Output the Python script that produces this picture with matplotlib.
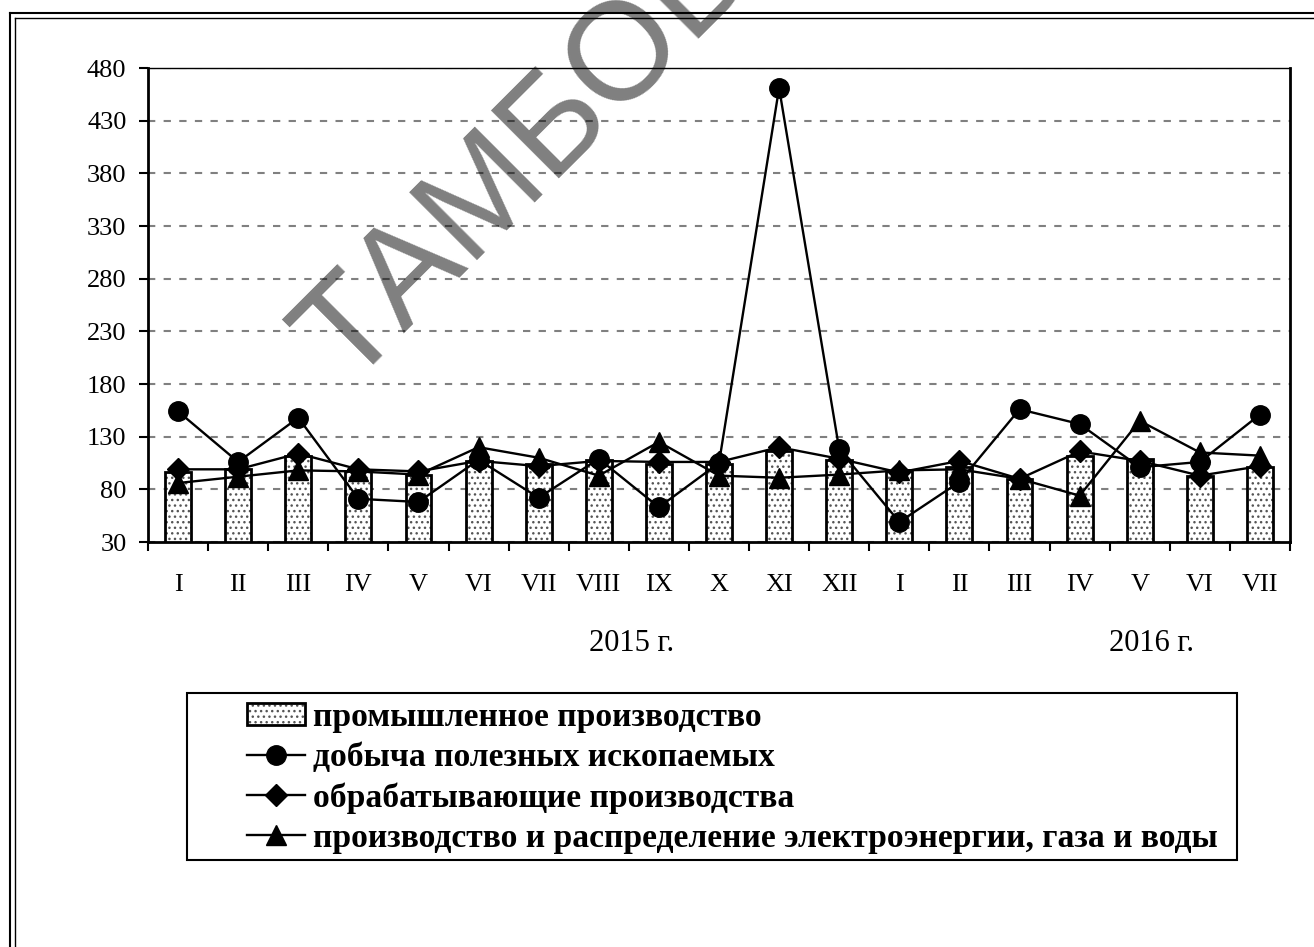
import numpy as np
import matplotlib
matplotlib.use("Agg")
import matplotlib.pyplot as plt
from matplotlib.lines import Line2D
from matplotlib.patches import Patch, Rectangle
from matplotlib.legend_handler import HandlerTuple

# months, Jan 2015 .. Jul 2016
months = ['I', 'II', 'III', 'IV', 'V', 'VI', 'VII', 'VIII', 'IX', 'X', 'XI', 'XII',
          'I', 'II', 'III', 'IV', 'V', 'VI', 'VII']

prom = [96, 99, 112, 97, 94, 107, 104, 108, 104, 104, 116, 108,
        97, 101, 90, 112, 109, 93, 101]
dobycha = [154, 106, 148, 71, 68, 108, 72, 109, 63, 105, 461, 118,
           49, 87, 156, 142, 101, 106, 151]
obrab = [99, 99, 114, 99, 97, 107, 102, 107, 106, 106, 120, 109,
         96, 107, 90, 116, 107, 93, 102]
energy = [86, 92, 98, 97, 94, 120, 110, 93, 125, 93, 91, 94,
          98, 99, 90, 74, 145, 115, 112]

labels = ['промышленное производство',
          'добыча полезных ископаемых',
          'обрабатывающие производства',
          'производство и распределение электроэнергии, газа и воды']
years = ['2015 г.', '2016 г.']

W, H = 1314, 947
serif = 'Liberation Serif'

fig = plt.figure(figsize=(W / 100, H / 100), dpi=100)
ax = fig.add_axes([148 / W, 1 - 542 / H, (1290 - 148) / W, (542 - 68) / H])

x = np.arange(len(months))

# bars: dotted fill + black outline
ax.bar(x, prom, width=0.43, color='white', edgecolor='#555555', hatch='...', linewidth=0, zorder=2)
ax.bar(x, prom, width=0.43, fill=False, edgecolor='black', linewidth=2, zorder=2.1)

ax.plot(x, dobycha, color='black', lw=1.7, marker='o', ms=14, zorder=3)
ax.plot(x, obrab, color='black', lw=1.7, marker='D', ms=11.5, zorder=4)
ax.plot(x, energy, color='black', lw=1.7, marker='^', ms=14, zorder=5)

ax.set_xlim(-0.5, len(months) - 0.5)
ax.set_ylim(30, 480)
ax.set_yticks(np.arange(30, 481, 50))
ax.set_xticks(x, months)
ax.set_xticks(np.arange(-0.5, len(months), 1), minor=True)

ax.tick_params(axis='x', which='major', length=0, pad=23, labelsize=19)
ax.tick_params(axis='x', which='minor', length=6.5, width=1.5, direction='out')
ax.tick_params(axis='y', length=6.5, width=1.5, direction='out', pad=9, labelsize=19)
for t in ax.get_xticklabels() + ax.get_yticklabels():
    t.set_fontfamily(serif)

ax.set_axisbelow(True)
ax.yaxis.grid(True, color='#808080', lw=1.5, linestyle=(0, (3.5, 4)))
for s in ['left', 'bottom', 'right']:
    ax.spines[s].set_linewidth(2)
ax.spines['top'].set_linewidth(1)

ax.text(7.55, -0.215, years[0], transform=ax.get_xaxis_transform(),
        ha='center', va='center', fontsize=22, family=serif)
ax.text(16.19, -0.215, years[1], transform=ax.get_xaxis_transform(),
        ha='center', va='center', fontsize=22, family=serif)

# legend
h_bar = (Patch(facecolor='white', edgecolor='#555555', hatch='...', linewidth=0),
         Patch(fill=False, edgecolor='black', linewidth=2))
h_o = Line2D([], [], color='black', lw=1.7, marker='o', ms=14)
h_d = Line2D([], [], color='black', lw=1.7, marker='D', ms=11.5)
h_t = Line2D([], [], color='black', lw=1.7, marker='^', ms=14)
fig.legend([h_bar, h_o, h_d, h_t], labels, loc='upper left',
           bbox_to_anchor=(247 / W, 1 - 702 / H), frameon=False, borderpad=0,
           borderaxespad=0, handlelength=1.74, handletextpad=0.22, labelspacing=0.27,
           handleheight=0.6,
           handler_map={tuple: HandlerTuple(ndivide=1, pad=0)},
           prop={'family': serif, 'weight': 'bold', 'size': 24.2})
fig.add_artist(Rectangle((187 / W, 1 - 860 / H), (1237 - 187) / W, (860 - 693) / H,
                         transform=fig.transFigure, fill=False, edgecolor='black', lw=1.5))

# double frame at top and left
fig.add_artist(Line2D([10 / W, 10 / W], [0, 1 - 13 / H], transform=fig.transFigure, color='black', lw=1.5))
fig.add_artist(Line2D([15 / W, 15 / W], [0, 1 - 18 / H], transform=fig.transFigure, color='black', lw=1))
fig.add_artist(Line2D([10 / W, 1], [1 - 13 / H, 1 - 13 / H], transform=fig.transFigure, color='black', lw=1.5))
fig.add_artist(Line2D([15 / W, 1], [1 - 18 / H, 1 - 18 / H], transform=fig.transFigure, color='black', lw=1))

# watermark
fig.text(347 / W, 1 - 387 / H, 'ТАМБОВ', rotation=45, rotation_mode='anchor',
         ha='left', va='baseline', fontsize=100, family='Liberation Sans',
         color='black', alpha=0.5, zorder=10)

fig.savefig('out.png', dpi=100)
